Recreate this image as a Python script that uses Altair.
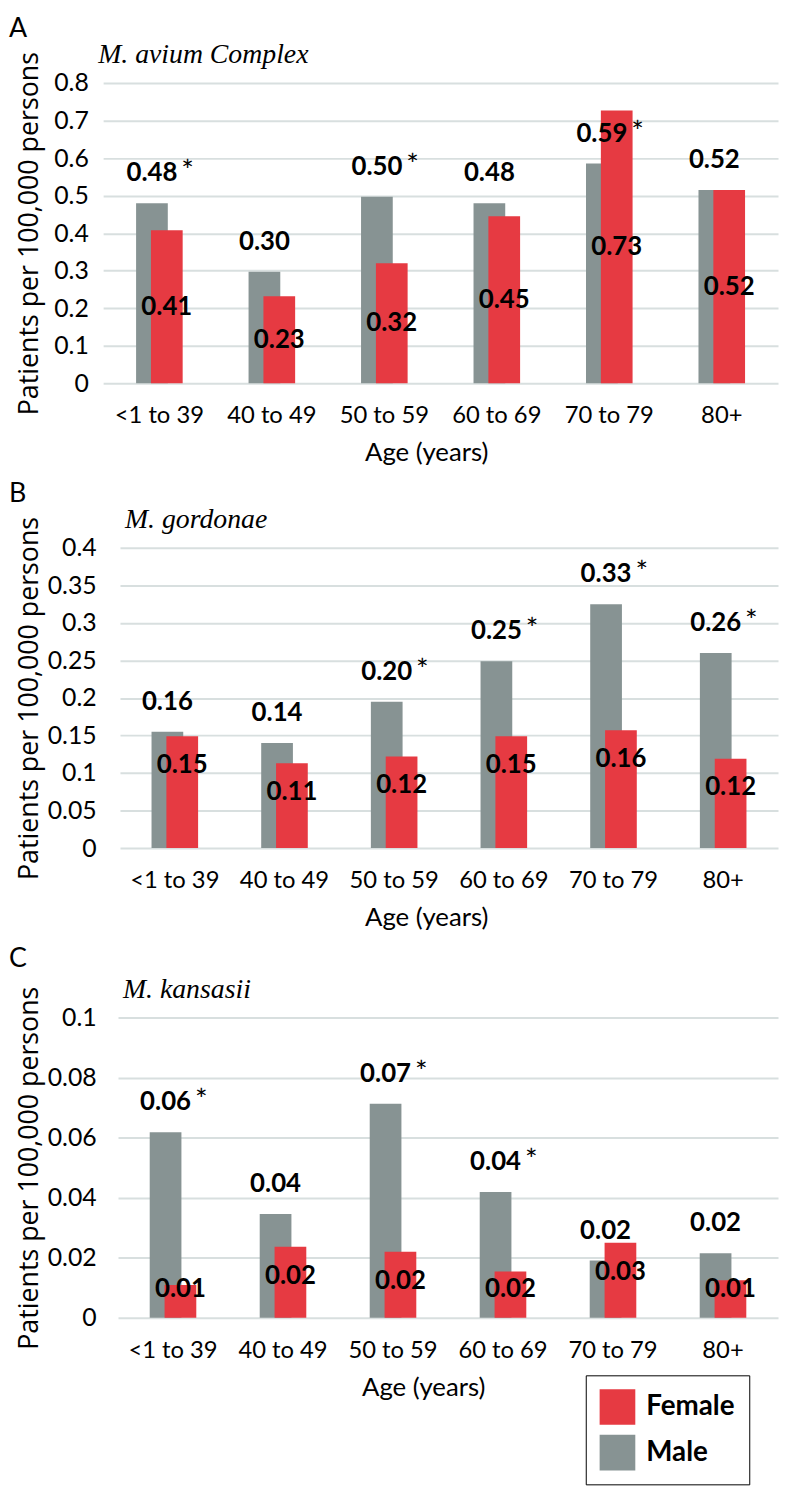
import altair as alt
import pandas as pd

ages = ["<1 to 39", "40 to 49", "50 to 59", "60 to 69", "70 to 79", "80+"]
sexes = ["Female", "Male"]
colors = ["#E63A42", "#879393"]

# Panel A - M. avium Complex
a_male = [0.48, 0.297, 0.497, 0.48, 0.586, 0.515]
a_female = [0.408, 0.232, 0.32, 0.445, 0.727, 0.515]
a_male_lab = ["0.48", "0.30", "0.50", "0.48", "0.59", "0.52"]
a_female_lab = ["0.41", "0.23", "0.32", "0.45", "0.73", "0.52"]
a_sig = [True, False, True, False, True, False]
a_ticks = [0, 0.1, 0.2, 0.3, 0.4, 0.5, 0.6, 0.7, 0.8]

# Panel B - M. gordonae
b_male = [0.155, 0.140, 0.195, 0.249, 0.325, 0.260]
b_female = [0.149, 0.113, 0.122, 0.149, 0.157, 0.119]
b_male_lab = ["0.16", "0.14", "0.20", "0.25", "0.33", "0.26"]
b_female_lab = ["0.15", "0.11", "0.12", "0.15", "0.16", "0.12"]
b_sig = [False, False, True, True, True, True]
b_ticks = [0, 0.05, 0.1, 0.15, 0.2, 0.25, 0.3, 0.35, 0.4]

# Panel C - M. kansasii
c_male = [0.0618, 0.0346, 0.0713, 0.0419, 0.0191, 0.0215]
c_female = [0.0109, 0.0237, 0.0220, 0.0154, 0.0250, 0.0125]
c_male_lab = ["0.06", "0.04", "0.07", "0.04", "0.02", "0.02"]
c_female_lab = ["0.01", "0.02", "0.02", "0.02", "0.03", "0.01"]
c_sig = [True, False, True, True, False, False]
c_ticks = [0, 0.02, 0.04, 0.06, 0.08, 0.1]

PLOT_H = 303
PLOT_W = 681
LEFT = 103
BAR_W = 32
OFF = 7.5
GRID = "#D8DFDF"


def panel(letter, title, male, female, mlab, flab, sig, ticks, ymax,
          x_start, letter_top, label_pad, title_dx, xtitle_x,
          female_mode, legend):
    rows = []
    for i, a in enumerate(ages):
        rows.append({"age": a, "sex": "Male", "value": male[i],
                     "label": mlab[i], "sig": sig[i]})
        rows.append({"age": a, "sex": "Female", "value": female[i],
                     "label": flab[i], "sig": False})
    df = pd.DataFrame(rows)
    ppu = PLOT_H / ymax
    if female_mode == "center":
        expr = "datum.value / 2"
    elif female_mode == "inside":
        expr = f"datum.value - {29 / ppu}"
    else:
        expr = f"max(datum.value - {30 / ppu}, {29 / ppu})"

    yscale = alt.Scale(domain=[0, ymax], nice=False, zero=True)
    xaxis = alt.Axis(title="Age (years)", labelAngle=0, domain=False,
                     ticks=False, tickSize=0, labelPadding=21,
                     labelFont="Lato", labelFontSize=24,
                     labelColor="black", titleFont="Lato",
                     titleFontSize=26, titleFontWeight="normal",
                     titleColor="black", titleX=xtitle_x, titleY=57,
                     titleBaseline="top", titleAlign="center")
    yaxis = alt.Axis(values=ticks, format="~g", grid=True,
                     gridColor=GRID, gridWidth=2, domain=False,
                     ticks=False, tickSize=0, labelPadding=label_pad,
                     labelFont="Lato", labelFontSize=25,
                     labelColor="black",
                     title="Patients per 100,000 persons",
                     titleFont="Open Sans", titleFontSize=27,
                     titleFontWeight="normal", titleColor="black",
                     titleX=-(LEFT - 16), titleY=PLOT_H / 2,
                     titleBaseline="top", titleAlign="center")
    x = alt.X("age:N", sort=ages,
              scale=alt.Scale(paddingInner=0, paddingOuter=0,
                              range=[x_start, PLOT_W]),
              axis=xaxis)
    y = alt.Y("value:Q", scale=yscale, axis=yaxis)
    color = alt.Color("sex:N", scale=alt.Scale(domain=sexes, range=colors),
                      legend=legend)

    base = alt.Chart(df)
    gray = base.transform_filter("datum.sex == 'Male'").mark_bar(
        width=BAR_W, xOffset=-OFF).encode(x=x, y=y, color=color)
    red = base.transform_filter("datum.sex == 'Female'").mark_bar(
        width=BAR_W, xOffset=OFF).encode(x=x, y=y, color=color)
    mtxt = base.transform_filter("datum.sex == 'Male'").mark_text(
        font="Lato", fontWeight="bold", fontSize=26, color="black",
        baseline="middle", dy=-30, xOffset=-OFF).encode(
        x=x, y=y, text="label:N")
    ftxt = base.transform_filter("datum.sex == 'Female'").transform_calculate(
        ly=expr).mark_text(
        font="Lato", fontWeight="bold", fontSize=26, color="black",
        baseline="middle", xOffset=OFF).encode(
        x=x, y=alt.Y("ly:Q", scale=yscale, axis=yaxis), text="label:N")
    star = base.transform_filter("datum.sex == 'Male' && datum.sig").mark_text(
        font="Lato", fontSize=30, color="black", baseline="middle",
        dx=36, dy=-31, xOffset=-OFF).encode(x=x, y=y, text=alt.value("*"))
    ttl = alt.Chart(pd.DataFrame({"t": [title]})).mark_text(
        align="left", baseline="alphabetic", font="Liberation Serif",
        fontStyle="italic", fontSize=28, color="black").encode(
        x=alt.value(title_dx), y=alt.value(-20), text="t:N")
    let = alt.Chart(pd.DataFrame({"t": [letter]})).mark_text(
        align="left", baseline="top", font="Lato", fontSize=27,
        color="black").encode(
        x=alt.value(-(LEFT - 8)), y=alt.value(-letter_top), text="t:N")
    return alt.layer(gray, red, mtxt, ftxt, star, ttl, let).properties(
        width=PLOT_W, height=PLOT_H)


legend_c = alt.Legend(title=None, orient="none", legendX=487, legendY=361,
                      symbolType="square", symbolSize=1296,
                      symbolStrokeWidth=0, symbolOpacity=1,
                      labelFont="Lato", labelFontSize=28,
                      labelFontWeight="bold", labelColor="black",
                      labelOffset=11, rowPadding=10, padding=14,
                      strokeColor="black", fillColor="white")

pa = panel("A", "M. avium Complex", a_male, a_female, a_male_lab, a_female_lab,
           a_sig, a_ticks, 0.8, 0, 67, 15, -5, 326, "center", None)
pb = panel("B", "M. gordonae", b_male, b_female, b_male_lab, b_female_lab,
           b_sig, b_ticks, 0.4, 17, 67, 7, 22, 326, "inside", None)
pc = panel("C", "M. kansasii", c_male, c_female, c_male_lab, c_female_lab,
           c_sig, c_ticks, 0.1, 15, 72, 7, 20, 323, "clip", legend_c)

chart = alt.vconcat(pa, pb, pc, spacing=13).resolve_scale(
    x="independent", y="independent", color="independent"
).resolve_legend(color="independent").properties(padding=0).configure_view(
    stroke="transparent")

chart.save("out.html", embed_options={"renderer": "svg", "actions": False})
